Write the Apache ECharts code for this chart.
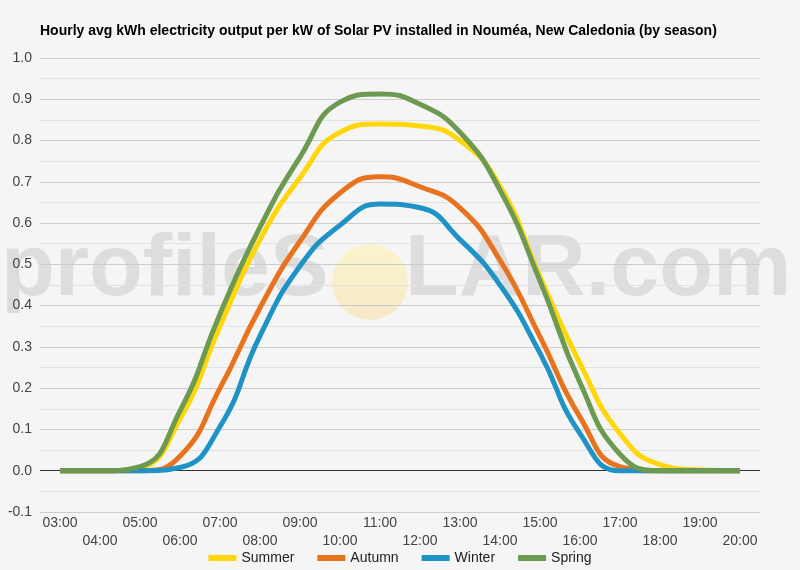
<!DOCTYPE html>
<html lang="en">
<head>
    <meta charset="UTF-8">
    <title>Nouméa solar PV output by season</title>
    <script src="https://cdn.jsdelivr.net/npm/echarts@6/dist/echarts.min.js"></script>
    <style>
        html, body { margin: 0; padding: 0; background: #f5f5f5; }
        #chart { width: 800px; height: 570px; }
    </style>
</head>
<body>
<div id="chart"></div>
<script>
    // hours of the day (x axis)
    var hours = ['03:00', '04:00', '05:00', '06:00', '07:00', '08:00', '09:00', '10:00', '11:00',
                 '12:00', '13:00', '14:00', '15:00', '16:00', '17:00', '18:00', '19:00', '20:00'];

    // avg kWh per kW installed
    var summer = [0, 0, 0.008, 0.125, 0.35, 0.56, 0.71, 0.82, 0.84, 0.835, 0.80, 0.69, 0.47, 0.26, 0.09, 0.015, 0.002, 0];
    var autumn = [0, 0, 0, 0.035, 0.20, 0.395, 0.556, 0.673, 0.712, 0.688, 0.637, 0.51, 0.325, 0.13, 0.01, 0, 0, 0];
    var winter = [0, 0, 0, 0.008, 0.107, 0.327, 0.496, 0.595, 0.646, 0.637, 0.56, 0.45, 0.285, 0.09, 0, 0, 0, 0];
    var spring = [0, 0, 0.01, 0.145, 0.38, 0.59, 0.76, 0.893, 0.913, 0.888, 0.82, 0.68, 0.46, 0.213, 0.04, 0, 0, 0];

    var yTicks = { min: -0.1, max: 1.0, step: 0.1 };

    var chart = echarts.init(document.getElementById('chart'));

    function line(name, data, color) {
        return {
            name: name,
            type: 'line',
            data: data,
            smooth: 0.5,
            showSymbol: false,
            lineStyle: { color: color, width: 5 },
            itemStyle: { color: color }
        };
    }

    var series = [
        line('Summer', summer, '#ffd60a'),
        line('Autumn', autumn, '#e8731e'),
        line('Winter', winter, '#1f93c6'),
        line('Spring', spring, '#6b9a50')
    ];
    // dark baseline at zero
    series[0].markLine = {
        silent: true,
        symbol: 'none',
        label: { show: false },
        lineStyle: { color: '#333', width: 1, type: 'solid' },
        data: [{ yAxis: 0 }],
        z: 1
    };

    var wmFont = 'bold 88px Arial, "Liberation Sans", sans-serif';

    var option = {
        backgroundColor: '#f5f5f5',
        animation: false,
        textStyle: { fontFamily: 'Arial, "Liberation Sans", sans-serif' },
        title: {
            text: 'Hourly avg kWh electricity output per kW of Solar PV installed in Nouméa, New Caledonia (by season)',
            left: 35,
            top: 19,
            textStyle: { fontSize: 14, fontWeight: 'bold', color: '#000' }
        },
        graphic: [
            {
                type: 'text', left: 1, top: 227, z: 0, silent: true,
                style: { text: 'profileS', font: wmFont, fill: 'rgba(205,205,205,0.6)' }
            },
            {
                type: 'circle', z: 0, silent: true,
                shape: { cx: 370, cy: 282, r: 38 },
                style: {
                    fill: new echarts.graphic.LinearGradient(0, 0, 0, 1, [
                        { offset: 0, color: 'rgba(250,245,190,0.75)' },
                        { offset: 1, color: 'rgba(248,228,185,0.75)' }
                    ])
                }
            },
            {
                type: 'text', left: 405, top: 227, z: 0, silent: true,
                style: { text: 'LAR.com', font: wmFont, fill: 'rgba(205,205,205,0.6)' }
            }
        ],
        legend: {
            bottom: 0,
            left: 'center',
            icon: 'rect',
            itemWidth: 28,
            itemHeight: 6,
            itemGap: 23,
            textStyle: { fontSize: 14, color: '#222' },
            data: ['Summer', 'Autumn', 'Winter', 'Spring']
        },
        grid: { left: 40, right: 40, top: 58, bottom: 58, containLabel: false },
        xAxis: {
            type: 'category',
            data: hours,
            boundaryGap: true,
            axisLine: { show: false },
            axisTick: { show: false },
            axisLabel: {
                interval: 0,
                margin: 2,
                fontSize: 14,
                color: '#444',
                lineHeight: 18,
                formatter: function (v, i) { return i % 2 ? '\n' + v : v; }
            }
        },
        yAxis: {
            type: 'value',
            min: yTicks.min,
            max: yTicks.max,
            interval: yTicks.step,
            axisLine: { show: false },
            axisTick: { show: false },
            axisLabel: {
                fontSize: 14,
                color: '#444',
                margin: 8,
                formatter: function (v) { return v.toFixed(1); }
            },
            splitLine: { lineStyle: { color: '#cccccc', width: 1 } },
            minorTick: { show: false, splitNumber: 2 },
            minorSplitLine: { show: true, lineStyle: { color: '#e2e2e2', width: 1 } }
        },
        series: series
    };

    chart.setOption(option);
</script>
</body>
</html>
